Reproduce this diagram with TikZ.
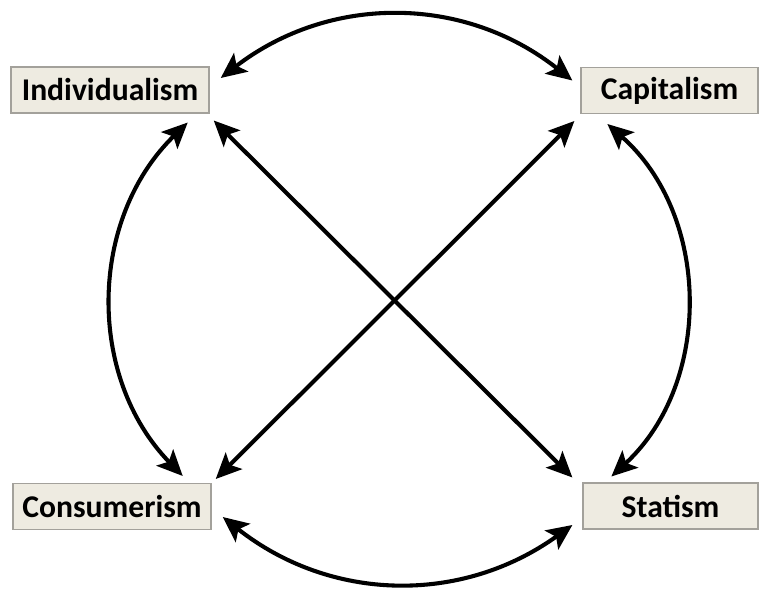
\documentclass[tikz,border=0pt]{standalone}
\usepackage{fontspec}
\setmainfont{Carlito}
\usepackage{xcolor}
\usepackage{tikz}
\usetikzlibrary{arrows.meta, calc}

\definecolor{boxfill}{HTML}{EEEBE1}
\definecolor{boxline}{HTML}{A3A19B}

\begin{document}
\begin{tikzpicture}[
        x=0.025cm, y=-0.025cm,
        ism/.style={draw=boxline, line width=1pt, fill=boxfill, minimum height=1.14cm, inner sep=0pt, font=\fontsize{22.5}{26}\selectfont\bfseries},
        link/.style={{Stealth[length=0.64cm, width=0.58cm, inset=0.14cm]}-{Stealth[length=0.64cm, width=0.58cm, inset=0.14cm]}, line width=2.9pt}
    ]
    \useasboundingbox (0,0) rectangle (761,590);

    \node[ism, minimum width=4.95cm] (indiv) at (110,90) {Individualism};
    \node[ism, minimum width=4.42cm] (capital) at (669.5,90.5) {Capitalism};
    \node[ism, minimum width=4.95cm] (consum) at (112,506.5) {Consumerism};
    \node[ism, minimum width=4.37cm] (statism) at (670.5,506) {Statism};

    % arcs round the outside
    \draw[link] ([shift={(11,-12)}]indiv.east) to[bend left=38] ([shift={(-8,-10)}]capital.west);
    \draw[link] ([shift={(-29,-7)}]consum.north east) to[bend left=45] ([shift={(-22,9)}]indiv.south east);
    \draw[link] ([shift={(27,10)}]capital.south west) to[bend left=48] ([shift={(29,-6)}]statism.north west);
    \draw[link] ([shift={(11,10.5)}]consum.east) to[bend right=37] ([shift={(-10,19)}]statism.west);

    % the two diagonals
    \draw[link] ([shift={(4,7)}]indiv.south east) -- ([shift={(-10,-5)}]statism.north west);
    \draw[link] ([shift={(4,-4)}]consum.north east) -- ([shift={(-6,7)}]capital.south west);
\end{tikzpicture}
\end{document}
